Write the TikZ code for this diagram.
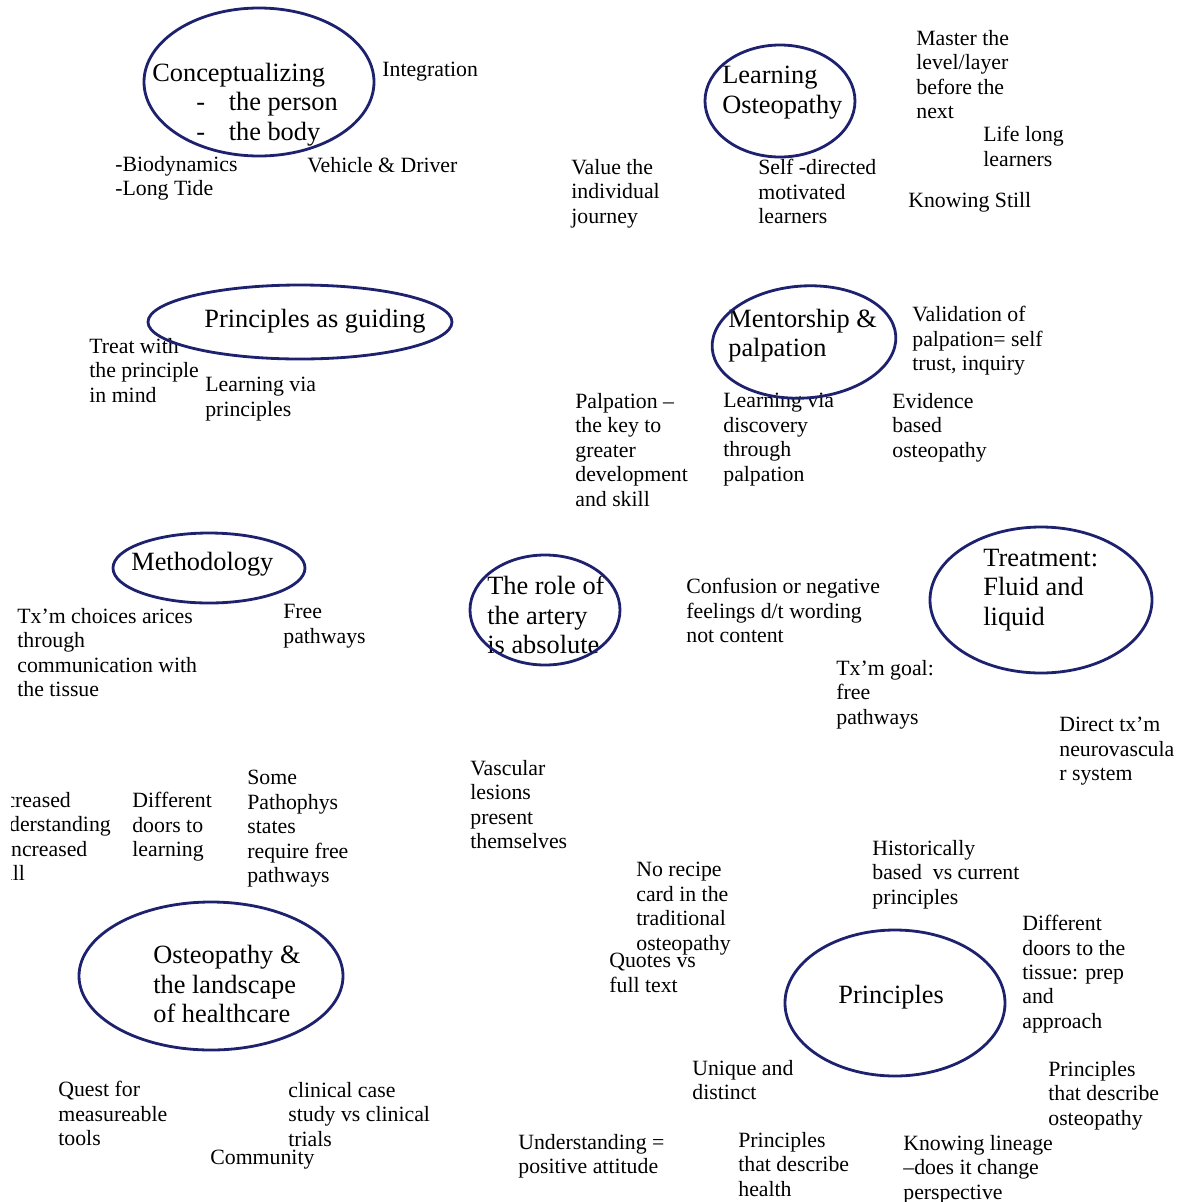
\documentclass[tikz,border=0pt]{standalone}
\usepackage{fontspec}
\setmainfont{Liberation Serif}
\usetikzlibrary{shapes.geometric}
\definecolor{ovalblue}{RGB}{30,34,110}
\tikzset{
  topic/.style={draw=ovalblue,line width=1.6pt,ellipse,inner sep=0pt},
  topictext/.style={anchor=north west,inner sep=0pt,align=left,font=\fontsize{15}{16.7}\selectfont},
  note/.style={anchor=north west,inner sep=0pt,align=left,font=\fontsize{12.4}{13.9}\selectfont}
}
\begin{document}
\begin{tikzpicture}[x=0.2mm,y=-0.2mm,line cap=round,line join=round]
  \useasboundingbox (0,0) rectangle (1183,1202);
  \clip (0,0) rectangle (1183,1202);
  \node[note] (integration) at (382,62) {Integration};
  \node[note] (biodyn) at (115,156) {-Biodynamics\\-Long Tide};
  \node[note] (vehicle) at (307,157) {Vehicle \& Driver};
  \node[topictext] (conceptlbl) at (152,63) {Conceptualizing\\\hspace*{25pt}-\hspace*{13.5pt}the person\\\hspace*{25pt}-\hspace*{13.5pt}the body};
  \node[topic,minimum width=46mm,minimum height=29.6mm] (concept) at (259,82) {};
  \node[topictext] (learnostlbl) at (722,66) {Learning\\Osteopathy};
  \node[topic,minimum width=30mm,minimum height=22.4mm] (learnost) at (780,101) {};
  \node[note] (value) at (571,159) {Value the\\individual\\journey};
  \node[note] (selfdir) at (758,159) {Self -directed\\motivated\\learners};
  \node[note] (master) at (916,30) {Master the\\level/layer\\before the\\next};
  \node[note] (lifelong) at (983,126) {Life long\\learners};
  \node[note] (still) at (908,192) {Knowing Still};
  \node[note] (treatwith) at (89,338) {Treat with\\the principle\\in mind};
  \node[note] (vialearn) at (205,377) {Learning via\\principles};
  \node[topictext] (guidinglbl) at (204,309) {Principles as guiding};
  \node[topic,minimum width=60.8mm,minimum height=14.8mm] (guiding) at (300,322) {};
  \node[note] (validation) at (912,306) {Validation of\\palpation= self\\trust, inquiry};
  \node[note] (palpkey) at (575,393) {Palpation –\\the key to\\greater\\development\\and skill};
  \node[note] (discovery) at (723,393) {Learning via\\discovery\\through\\palpation};
  \node[note] (evidence) at (892,393) {Evidence\\based\\osteopathy};
  \node[topictext] (mentorlbl) at (728,309) {Mentorship \&\\palpation};
  \node[topic,rotate=4,minimum width=36.8mm,minimum height=22.4mm] (mentor) at (804,342) {};
  \node[note] (choices) at (17,608) {Tx’m choices arices\\through\\communication with\\the tissue};
  \node[note] (freepath) at (283,604) {Free\\pathways};
  \node[topictext] (methodlbl) at (131,552) {Methodology};
  \node[topic,minimum width=38.4mm,minimum height=14mm] (method) at (209,568) {};
  \node[topictext] (arterylbl) at (487,576) {The role of\\the artery\\is absolute};
  \node[topic,minimum width=30mm,minimum height=22mm] (artery) at (545,610) {};
  \node[note] (confusion) at (686,578) {Confusion or negative\\feelings d/t wording\\not content};
  \node[note] (txgoal) at (836,660) {Tx’m goal:\\free\\pathways};
  \node[topictext] (treatlbl) at (983,549) {Treatment:\\Fluid and\\liquid};
  \node[topic,minimum width=44.4mm,minimum height=29.2mm] (treat) at (1041,600) {};
  \node[note] (directtx) at (1059,717) {Direct tx’m\\neurovascula\\r system};
  \node[note] (vascular) at (470,760) {Vascular\\lesions\\present\\themselves};
  \begin{scope}
    \clip (11,770) rectangle (130,895);
    \node[note] (increased) at (-13,792) {Increased\\understanding\\= increased\\skill};
  \end{scope}
  \node[note] (doorslearn) at (132,792) {Different\\doors to\\learning};
  \node[note] (pathophys) at (247,770) {Some\\Pathophys\\states\\require free\\pathways};
  \node[topictext] (landscapelbl) at (153,945) {Osteopathy \&\\the landscape\\of healthcare};
  \node[topic,minimum width=52.8mm,minimum height=29.6mm] (landscape) at (211,976) {};
  \node[note] (quest) at (58,1081) {Quest for\\measureable\\tools};
  \node[note] (clinical) at (288,1082) {clinical case\\study vs clinical\\trials};
  \node[note] (community) at (210,1150) {Community};
  \node[topictext,anchor=west] (principleslbl) at (838,997) {Principles};
  \node[topic,minimum width=44mm,minimum height=29.2mm] (principles) at (895,1003) {};
  \node[note] (recipe) at (636,862) {No recipe\\card in the\\traditional\\osteopathy};
  \node[note] (quotes) at (609,953) {Quotes vs\\full text};
  \node[note] (historic) at (872,840) {Historically\\based~~vs current\\principles};
  \node[note] (doorstissue) at (1022,915) {Different\\doors to the\\tissue: prep\\and\\approach};
  \node[note] (unique) at (692,1060) {Unique and\\distinct};
  \node[note] (descosteo) at (1048,1061) {Principles\\that describe\\osteopathy};
  \node[note] (posattitude) at (518,1134) {Understanding =\\positive attitude};
  \node[note] (deschealth) at (738,1132) {Principles\\that describe\\health};
  \node[note] (lineage) at (903,1135) {Knowing lineage\\–does it change\\perspective};
\end{tikzpicture}
\end{document}
